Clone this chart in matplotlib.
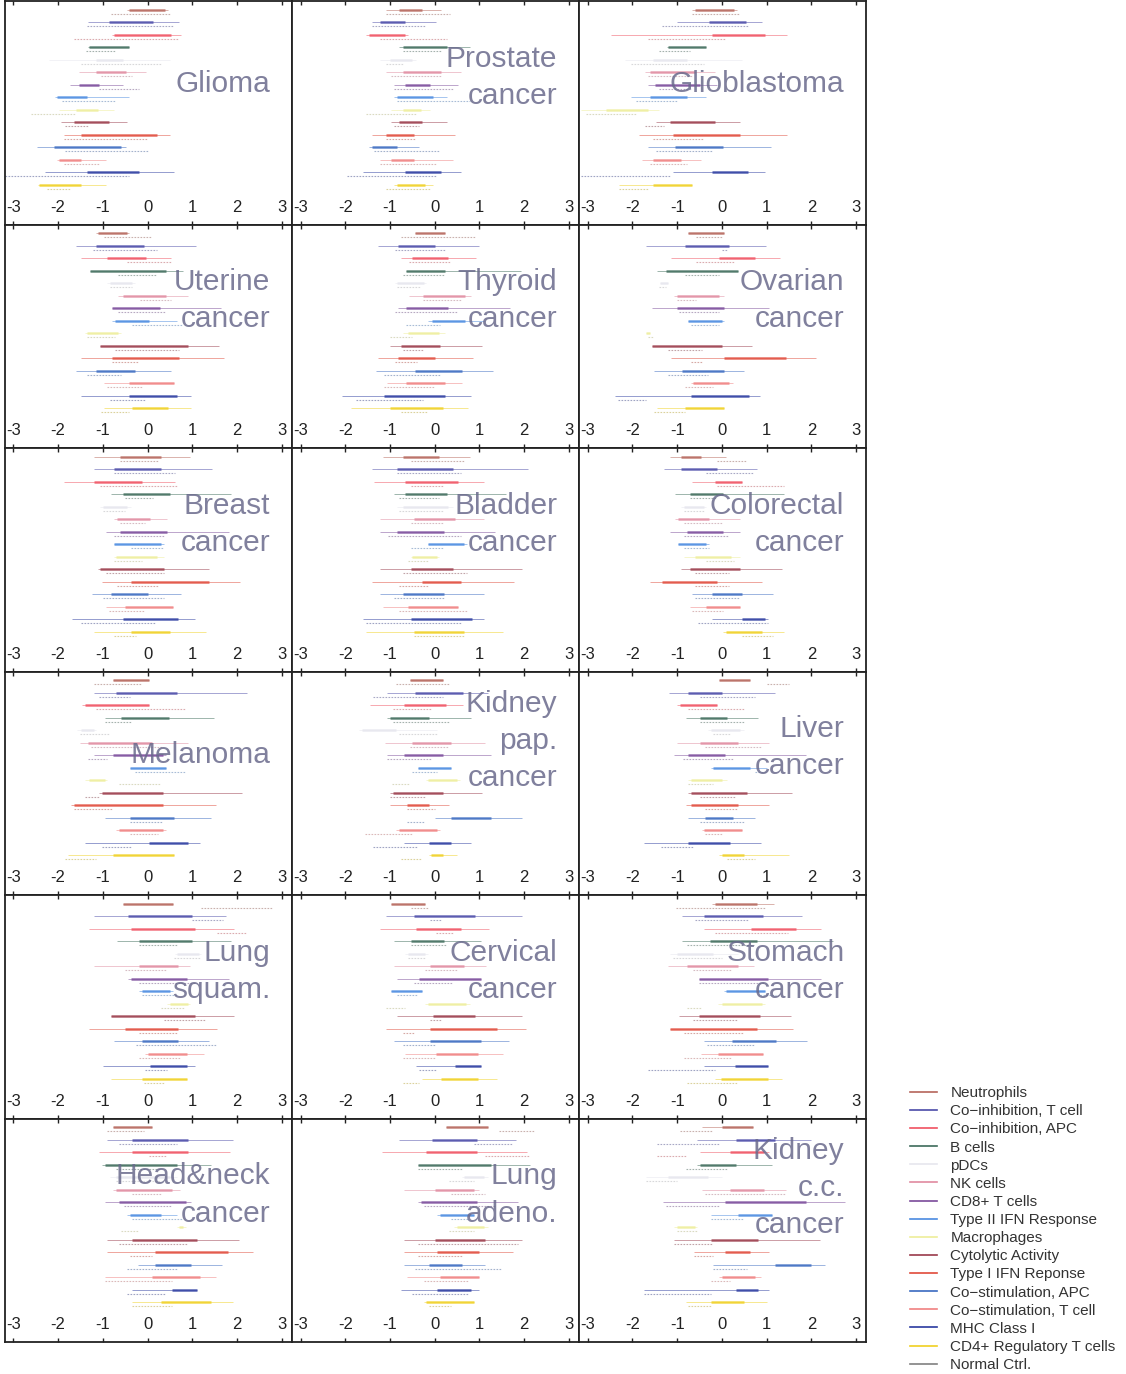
import matplotlib
matplotlib.use('Agg')
import matplotlib.pyplot as plt
from matplotlib.lines import Line2D
from matplotlib.colors import to_rgb

plt.rcParams['font.family'] = ['Liberation Sans', 'DejaVu Sans']
plt.rcParams['axes.unicode_minus'] = False

signatures = ['Neutrophils', 'Co\u2212inhibition, T cell', 'Co\u2212inhibition, APC', 'B cells',
              'pDCs', 'NK cells', 'CD8+ T cells', 'Type II IFN Response', 'Macrophages',
              'Cytolytic Activity', 'Type I IFN Reponse', 'Co\u2212stimulation, APC',
              'Co\u2212stimulation, T cell', 'MHC Class I', 'CD4+ Regulatory T cells']
sig_colors = ['#b5655a', '#4a4aa8', '#f05060', '#3d6b5a', '#e6e6ee', '#e08aa0', '#7a4a9a',
              '#4a8ae0', '#eeee9a', '#9a3a4a', '#e04a3a', '#3a6ac0', '#f08080', '#2a3aa0',
              '#f0d020']
ctrl_label = 'Normal Ctrl.'
ctrl_color = '#808080'

# each row: tumour (min, q1, q3, max), normal ctrl (min, max)
glioma = [
    (-0.45, -0.41, 0.39, 0.45, -0.82, 0.49),
    (-1.33, -0.86, 0.13, 0.71, -1.35, 0.56),
    (-0.79, -0.75, 0.52, 0.75, -1.65, 0.71),
    (-1.33, -1.30, -0.41, -0.41, -1.37, -0.71),
    (-2.2, -1.16, -0.56, 0.5, -1.5, 0.3),
    (-1.54, -1.16, -0.49, -0.04, -1.05, -0.34),
    (-1.74, -1.54, -1.09, -0.56, -1.09, -0.19),
    (-2.06, -2.03, -1.35, -0.41, -1.91, -0.71),
    (-1.99, -1.6, -1.1, -0.75, -2.6, -1.61),
    (-1.93, -1.65, -0.86, -0.45, -1.84, -1.31),
    (-1.88, -1.5, 0.2, 0.5, -1.88, 0.0),
    (-2.47, -2.1, -0.6, -0.49, -1.84, 0.0),
    (-2.03, -1.99, -1.5, -0.94, -1.88, -1.09),
    (-2.29, -1.35, -0.19, 0.6, -3.26, -0.41),
    (-2.45, -2.43, -1.5, -0.94, -2.25, -1.72),
]
prostate = [
    (-1.1, -0.79, -0.29, 0.15, -1.1, 0.34),
    (-1.41, -1.22, -0.66, 0.03, -1.41, -0.22),
    (-1.54, -1.47, -0.66, -0.6, -1.22, 0.28),
    (-0.79, -0.72, 0.28, 0.78, -0.72, 0.15),
    (-1.22, -1.0, -0.5, -0.41, -1.1, -0.72),
    (-1.1, -0.72, 0.15, 0.59, -0.97, 0.15),
    (-0.91, -0.66, -0.1, 0.53, -0.91, 0.4),
    (-0.91, -0.85, -0.04, 0.28, -0.85, 0.78),
    (-0.97, -0.7, -0.3, -0.1, -1.54, -0.41),
    (-0.97, -0.79, -0.29, 0.28, -0.91, -0.35),
    (-1.41, -1.1, -0.47, 0.46, -1.1, -0.41),
    (-1.47, -1.41, -0.85, -0.35, -1.35, 0.09),
    (-1.22, -0.97, -0.47, 0.4, -1.22, 0.03),
    (-1.6, -0.66, 0.15, 0.59, -1.97, 0.03),
    (-0.91, -0.85, -0.22, -0.04, -1.1, -0.1),
]
glioblastoma = [
    (-0.66, -0.6, 0.28, 0.34, -0.66, 0.4),
    (-1.0, -0.29, 0.53, 0.9, -1.35, 0.59),
    (-2.47, -0.22, 0.96, 1.46, -1.66, 0.09),
    (-1.22, -1.2, -0.35, -0.35, -1.41, -0.72),
    (-2.16, -1.54, -0.79, 0.46, -2.04, -0.41),
    (-1.72, -1.6, -0.6, -0.16, -1.66, -0.66),
    (-1.66, -1.5, -0.5, -0.1, -1.41, -0.66),
    (-2.04, -1.6, -0.79, -0.35, -1.91, -0.97),
    (-3.16, -2.6, -1.66, -1.41, -3.04, -1.91),
    (-1.47, -1.16, -0.16, 0.4, -1.72, -1.29),
    (-1.85, -1.1, 0.4, 1.46, -1.54, -0.41),
    (-1.66, -1.04, 0.03, 1.09, -1.47, -0.22),
    (-1.79, -1.54, -0.91, -0.47, -1.6, -0.79),
    (-1.1, -0.22, 0.59, 0.96, -3.16, -1.16),
    (-2.29, -1.54, -0.66, -0.66, -2.29, -1.66),
]
uterine = [
    (-1.16, -1.1, -0.45, -0.41, -0.97, 0.09),
    (-1.6, -1.16, -0.07, 1.09, -1.22, 0.21),
    (-1.5, -0.91, -0.04, 0.53, -0.47, 0.53),
    (-1.29, -1.29, 0.4, 0.78, -0.66, 0.21),
    (-0.91, -0.85, -0.35, -0.29, -0.85, -0.35),
    (-0.66, -0.54, 0.4, 0.9, -0.16, 0.53),
    (-0.79, -0.79, 0.28, 1.65, -0.66, 0.4),
    (-0.79, -0.72, 0.03, 0.65, -0.35, 0.78),
    (-1.41, -1.35, -0.66, -0.6, -1.35, -0.72),
    (-1.06, -1.06, 0.9, 1.59, -0.72, 0.71),
    (-1.5, -0.79, 0.71, 1.71, -0.79, -0.22),
    (-1.6, -1.16, -0.29, 0.53, -1.35, -0.6),
    (-0.97, -0.41, 0.59, 0.59, -0.91, -0.1),
    (-1.5, -0.41, 0.65, 0.96, -0.85, -0.04),
    (-0.97, -0.35, 0.46, 0.96, -1.04, -0.41),
]
thyroid = [
    (-0.45, -0.45, 0.24, 0.24, -0.76, 0.93),
    (-1.26, -0.82, 0.0, 0.99, -0.89, 0.24),
    (-0.76, -0.51, 0.3, 0.93, -0.57, 0.36),
    (-0.64, -0.64, 0.24, 1.93, -0.7, 0.24),
    (-0.89, -0.85, -0.25, -0.2, -0.85, -0.3),
    (-0.57, -0.26, 0.68, 0.8, -0.26, 0.61),
    (-0.82, -0.64, 0.3, 1.68, -0.89, 0.49),
    (-0.14, -0.07, 0.68, 1.1, -0.64, 0.11),
    (-0.7, -0.6, 0.1, 0.24, -1.01, -0.51),
    (-1.0, -0.76, 0.11, 1.05, -0.7, -0.26),
    (-1.26, -0.82, 0.0, 0.86, -0.89, -0.39),
    (-1.32, -0.45, 0.61, 1.3, -1.13, 0.11),
    (-1.07, -0.64, 0.24, 0.61, -1.13, 0.0),
    (-2.07, -1.13, 0.24, 0.8, -1.76, -0.26),
    (-1.88, -1.0, 0.18, 0.74, -0.76, -0.14),
]
ovarian = [
    (-0.76, -0.76, 0.05, 0.05, -0.57, 0.0),
    (-1.7, -0.82, 0.17, 0.99, 0.0, 0.11),
    (-1.13, -0.07, 0.74, 1.3, -0.57, 0.3),
    (-1.45, -1.26, 0.36, 0.36, -0.82, -0.07),
    (-1.38, -1.38, -1.2, -1.2, -1.4, -1.25),
    (-1.07, -1.01, -0.07, 0.05, -1.01, -0.57),
    (-1.57, -1.0, 0.05, 1.05, -0.95, -0.07),
    (-0.76, -0.76, 0.0, 0.05, -0.7, -0.07),
    (-1.7, -1.7, -1.6, -1.6, -1.65, -1.55),
    (-1.57, -1.57, 0.0, 0.68, -1.2, -0.45),
    (-1.13, 0.05, 1.43, 2.11, -0.7, -0.45),
    (-1.51, -0.89, 0.05, 0.49, -1.2, -0.32),
    (-0.7, -0.64, 0.17, 0.24, -0.82, -0.2),
    (-2.39, -0.7, 0.61, 0.86, -2.33, -1.7),
    (-1.45, -0.82, 0.05, 0.05, -1.51, -0.82),
]
breast = [
    (-1.19, -0.62, 0.31, 0.94, -0.62, 0.25),
    (-1.19, -0.75, 0.31, 1.44, -0.75, 0.62),
    (-1.87, -1.19, -0.12, 0.62, -1.06, 0.69),
    (-0.81, -0.56, 0.5, 1.87, -0.5, 0.12),
    (-1.06, -1.0, -0.45, -0.37, -1.0, -0.5),
    (-0.75, -0.69, 0.06, 0.44, -0.62, -0.06),
    (-0.94, -0.62, 0.44, 1.81, -0.75, 0.37),
    (-0.75, -0.75, 0.31, 0.37, -0.37, 0.37),
    (-0.75, -0.7, 0.2, 0.37, -0.75, -0.12),
    (-1.12, -1.06, 0.37, 1.37, -0.94, 0.37),
    (-1.02, -0.37, 1.37, 2.06, -0.69, 0.25),
    (-1.25, -0.81, 0.0, 0.75, -1.0, 0.37),
    (-0.94, -0.5, 0.56, 0.56, -0.87, -0.06),
    (-1.69, -0.56, 0.69, 1.06, -1.5, 0.19),
    (-1.19, -0.37, 0.5, 1.31, -0.75, -0.25),
]
bladder = [
    (-1.16, -0.72, 0.09, 0.78, -0.54, 0.65),
    (-1.41, -0.85, 0.4, 2.09, -0.85, 0.59),
    (-1.35, -0.66, 0.53, 1.09, -0.54, 0.21),
    (-0.91, -0.66, 0.28, 1.59, -0.79, 0.09),
    (-0.85, -0.7, 0.3, 0.4, -0.79, 0.21),
    (-1.22, -0.47, 0.46, 1.09, -0.54, 0.21),
    (-1.22, -0.85, 0.21, 1.34, -1.04, 0.59),
    (-0.16, -0.16, 0.65, 0.71, -0.54, 0.21),
    (-0.54, -0.5, 0.05, 0.09, -0.6, -0.16),
    (-1.22, -0.54, 0.4, 1.96, -0.72, 0.71),
    (-1.41, -0.29, 0.59, 1.78, -0.79, -0.16),
    (-1.22, -0.72, 0.21, 1.09, -0.91, 0.21),
    (-1.16, -0.6, 0.53, 0.53, -0.79, 0.71),
    (-1.6, -0.54, 0.84, 1.09, -1.54, 0.59),
    (-1.54, -0.47, 0.65, 1.53, -0.47, 0.65),
]
colorectal = [
    (-1.16, -0.91, -0.47, 0.09, -0.1, 0.53),
    (-1.29, -0.91, -0.1, 0.78, -0.35, 0.71),
    (-0.66, -0.16, 0.46, 0.46, -0.1, 1.4),
    (-1.04, -0.72, 0.03, 1.4, -0.72, -0.1),
    (-0.91, -0.85, -0.4, -0.35, -0.85, -0.4),
    (-1.04, -0.97, -0.29, 0.4, -0.85, 0.03),
    (-1.16, -0.79, 0.03, 0.4, -0.85, 0.15),
    (-0.97, -0.97, -0.35, -0.29, -0.85, -0.29),
    (-0.85, -0.6, 0.2, 0.4, -0.35, 0.28),
    (-0.91, -0.72, 0.4, 1.34, -0.6, 0.15),
    (-1.6, -1.35, -0.1, 0.9, -0.6, 0.15),
    (-0.66, -0.22, 0.46, 1.15, -0.6, 0.4),
    (-0.72, -0.35, 0.4, 0.4, -0.66, 0.03),
    (-0.22, 0.46, 0.96, 1.03, -0.54, 1.03),
    (0.03, 0.09, 0.9, 1.4, 0.46, 1.15),
]
melanoma = [
    (-0.78, -0.78, 0.04, 0.04, -1.21, -0.15),
    (-1.21, -0.71, 0.66, 2.23, -1.09, -0.4),
    (-1.46, -1.4, 0.04, 0.04, -1.15, 0.85),
    (-0.96, -0.59, 0.48, 1.48, -0.96, -0.34),
    (-1.59, -1.5, -1.2, -1.15, -1.52, -0.84),
    (-1.52, -1.34, 0.1, 0.91, -1.27, 0.35),
    (-1.21, -0.78, 0.35, 0.41, -1.34, -0.9),
    (-0.4, -0.4, 0.41, 0.41, -0.28, 0.85),
    (-1.4, -1.3, -0.95, -0.9, -0.65, 0.3),
    (-1.09, -1.02, 0.35, 2.1, -1.4, -1.09),
    (-1.71, -1.65, 0.35, 1.54, -1.65, -0.78),
    (-0.96, -0.4, 0.6, 1.41, -0.4, 0.35),
    (-0.71, -0.65, 0.35, 0.41, -0.4, 0.23),
    (-1.4, 0.04, 0.91, 1.16, -1.02, -0.34),
    (-1.77, -0.78, 0.6, 0.6, -1.84, -1.15),
]
kidney_pap = [
    (-0.56, -0.56, 0.19, 0.19, -0.87, 0.31),
    (-1.06, -0.44, 0.63, 1.19, -1.37, 0.19),
    (-1.44, -0.69, 0.25, 0.63, -0.94, -0.06),
    (-1.06, -1.0, -0.12, 0.81, -0.94, 0.31),
    (-1.69, -1.62, -0.87, 0.06, -0.81, 0.06),
    (-1.12, -0.5, 0.37, 1.12, -0.56, 0.31),
    (-1.06, -0.69, 0.19, 1.25, -1.06, -0.06),
    (-0.37, -0.37, 0.37, 0.37, -0.5, 0.06),
    (-0.19, -0.15, 0.5, 0.56, -0.96, -0.56),
    (-1.0, -0.94, 0.19, 1.06, -1.0, -0.19),
    (-1.0, -0.62, -0.12, 0.31, -0.62, 0.0),
    (0.0, 0.37, 1.25, 1.94, -0.62, -0.25),
    (-0.87, -0.81, 0.06, 0.12, -1.56, -0.5),
    (-0.69, -0.12, 0.37, 0.81, -1.37, -0.37),
    (-0.12, -0.09, 0.19, 0.5, -0.75, -0.31),
]
liver = [
    (-0.06, -0.06, 0.62, 0.62, 1.0, 1.5),
    (-1.19, -0.75, 0.0, 1.19, -0.5, 0.75),
    (-1.0, -0.94, -0.12, -0.12, -0.75, 0.5),
    (-0.81, -0.5, 0.12, 0.81, -0.5, 0.5),
    (-0.31, -0.25, 0.4, 0.5, -0.19, 0.19),
    (-1.0, -0.5, 0.37, 1.06, -0.37, 0.87),
    (-1.06, -0.75, 0.06, 1.87, -0.87, 0.25),
    (-0.25, -0.19, 0.62, 1.0, 0.75, 1.0),
    (-0.75, -0.7, 0.0, 0.12, -0.75, -0.19),
    (-0.75, -0.69, 0.56, 1.56, -0.5, 0.31),
    (-0.81, -0.69, 0.37, 1.06, -0.37, 0.37),
    (-0.75, -0.37, 0.25, 0.75, -0.5, 0.5),
    (-0.44, -0.4, 0.44, 0.44, -0.37, 0.0),
    (-1.75, -0.75, 0.19, 0.87, -1.37, -0.62),
    (-0.06, 0.0, 0.5, 1.5, 0.12, 0.75),
]
lung_squam = [
    (-0.56, -0.56, 0.56, 0.56, 1.19, 2.81),
    (-1.19, -0.44, 1.0, 1.75, 1.0, 1.69),
    (-1.31, -0.37, 1.06, 1.94, 1.56, 2.19),
    (-0.69, -0.19, 1.0, 1.87, -0.19, 0.69),
    (0.62, 0.65, 1.15, 1.19, 0.6, 1.2),
    (-1.19, -0.19, 0.69, 0.94, -0.5, 0.44),
    (-0.44, -0.37, 0.87, 1.81, -0.19, 1.06),
    (-0.19, -0.12, 0.5, 0.56, -0.12, 0.69),
    (0.44, 0.5, 0.9, 0.94, 0.31, 0.81),
    (-0.81, -0.81, 1.06, 1.94, 0.37, 1.31),
    (-1.31, -0.5, 0.69, 1.56, -0.19, 0.69),
    (-0.75, -0.12, 0.69, 1.37, -0.25, 1.56),
    (-0.06, 0.0, 0.87, 1.25, -0.19, 0.75),
    (-1.0, 0.06, 0.87, 1.06, -0.06, 0.44),
    (-0.81, -0.12, 0.87, 0.87, -0.09, 0.37),
]
cervical = [
    (-0.97, -0.97, -0.22, -0.22, -0.54, -0.16),
    (-1.1, -0.47, 0.9, 1.96, -0.1, 0.15),
    (-1.22, -0.41, 0.59, 1.21, 0.03, 0.4),
    (-0.91, -0.54, 0.21, 1.03, -0.54, 0.28),
    (-0.66, -0.6, -0.22, -0.16, -0.6, -0.22),
    (-0.91, -0.1, 0.65, 1.15, -0.22, 0.53),
    (-0.85, -0.35, 1.03, 1.03, -0.47, 0.4),
    (-0.97, -0.97, -0.29, -0.29, -0.85, -0.4),
    (-0.22, -0.15, 0.7, 0.78, -1.1, -0.66),
    (-0.85, -0.04, 0.9, 1.96, -0.1, 0.15),
    (-1.1, -0.1, 1.4, 2.03, -0.72, -0.47),
    (-0.91, -0.1, 1.03, 1.65, -0.72, 0.03),
    (-0.66, 0.03, 0.96, 1.53, -0.72, 0.03),
    (-0.41, 0.46, 1.03, 1.03, -0.35, 0.03),
    (-0.29, 0.15, 0.96, 1.4, -0.72, -0.35),
]
stomach = [
    (-0.21, -0.15, 0.79, 1.16, -1.02, 0.97),
    (-0.9, -0.4, 0.91, 1.79, -0.59, 0.6),
    (-0.4, 0.66, 1.66, 2.22, -0.15, 1.47),
    (-0.9, -0.27, 0.79, 2.48, -0.77, 0.72),
    (-1.15, -1.0, -0.2, 0.35, -1.1, 0.0),
    (-1.21, -0.77, 0.35, 0.72, -0.65, 0.22),
    (-0.52, -0.52, 1.04, 2.22, -0.52, 0.97),
    (0.04, 0.1, 0.97, 0.97, 0.85, 1.22),
    (-0.09, 0.0, 0.9, 0.97, -0.77, -0.46),
    (-0.96, -0.52, 0.85, 1.54, -0.65, 0.35),
    (-1.15, -1.15, 0.79, 1.6, -0.84, 0.47),
    (-0.4, 0.22, 1.22, 1.91, -0.34, 0.72),
    (-0.46, -0.09, 0.91, 0.91, -0.84, 0.22),
    (-0.4, 0.29, 1.04, 1.04, -1.65, -0.15),
    (-0.15, -0.02, 1.04, 1.35, -0.77, 0.35),
]
head_neck = [
    (-0.77, -0.77, 0.1, 0.1, -0.9, -0.09),
    (-0.9, -0.34, 0.91, 1.91, -0.65, 0.66),
    (-1.09, -0.34, 0.91, 1.85, 0.04, 0.41),
    (-1.02, -0.96, 0.66, 1.41, -0.71, 0.29),
    (-0.84, -0.7, 0.5, 0.66, -0.7, 0.3),
    (-0.77, -0.71, 0.54, 0.72, -0.34, 0.29),
    (-0.96, -0.65, 0.85, 0.97, -0.52, 0.54),
    (-0.46, -0.4, 0.29, 0.66, -0.34, 0.79),
    (0.66, 0.7, 0.8, 0.85, -0.59, -0.21),
    (-0.9, -0.34, 1.1, 2.04, -0.65, 0.91),
    (-0.9, 0.16, 1.79, 2.35, -0.4, 0.1),
    (-0.21, 0.16, 0.97, 1.66, -0.46, 0.66),
    (-0.96, 0.1, 1.16, 1.54, -0.96, 0.54),
    (-0.34, 0.54, 1.1, 1.1, -0.46, 0.41),
    (-0.34, 0.29, 1.41, 1.91, -0.34, 0.54),
]
lung_adeno = [
    (0.25, 0.25, 1.19, 1.19, 1.44, 2.25),
    (-0.81, -0.06, 0.94, 1.81, 0.87, 1.75),
    (-1.19, -0.19, 0.94, 2.06, 1.12, 2.12),
    (-0.37, -0.37, 1.25, 2.12, -0.37, 0.62),
    (0.62, 0.65, 1.1, 1.19, 0.31, 0.87),
    (-0.69, 0.0, 0.87, 1.0, 0.37, 1.12),
    (-0.37, -0.31, 0.94, 1.87, -0.25, 1.37),
    (0.06, 0.12, 0.87, 0.87, 0.37, 0.75),
    (0.44, 0.5, 1.1, 1.19, 0.31, 0.87),
    (-0.69, 0.0, 1.12, 1.94, -0.37, 1.87),
    (-0.69, 0.06, 1.0, 1.75, -0.37, 0.62),
    (-0.69, -0.12, 0.62, 1.12, -0.44, 1.5),
    (-0.62, 0.12, 1.0, 1.0, -0.25, 0.75),
    (-0.75, 0.06, 0.81, 1.0, -0.5, 0.75),
    (-0.25, -0.19, 0.87, 0.87, -0.12, 0.37),
]
kidney_cc = [
    (-0.44, 0.0, 0.69, 0.69, -0.94, -0.19),
    (-0.56, 0.31, 1.19, 2.0, -1.44, -0.06),
    (-0.5, 0.19, 0.94, 1.06, -1.44, -0.81),
    (-0.56, -0.5, 0.31, 1.12, -0.81, 0.12),
    (-1.69, -1.2, -0.3, 0.0, -1.69, -1.0),
    (-0.44, 0.19, 0.94, 1.44, -0.37, 1.44),
    (-1.31, 0.06, 1.87, 2.75, -1.25, -0.06),
    (-0.25, 0.37, 1.12, 1.12, -0.25, 0.5),
    (-1.06, -1.0, -0.6, -0.56, -1.0, -0.56),
    (-1.06, -0.25, 0.81, 2.19, -1.06, -0.19),
    (-0.62, 0.06, 0.62, 1.06, -0.62, -0.19),
    (-0.19, 1.19, 2.0, 2.31, -0.19, 0.56),
    (-0.06, 0.0, 0.75, 0.87, -0.25, 0.19),
    (-1.75, 0.31, 0.81, 1.06, -1.75, -0.25),
    (-0.81, -0.25, 0.5, 1.0, -0.75, -0.25),
]

panels = [
    ('Glioma', glioma), ('Prostate\ncancer', prostate), ('Glioblastoma', glioblastoma),
    ('Uterine\ncancer', uterine), ('Thyroid\ncancer', thyroid), ('Ovarian\ncancer', ovarian),
    ('Breast\ncancer', breast), ('Bladder\ncancer', bladder), ('Colorectal\ncancer', colorectal),
    ('Melanoma', melanoma), ('Kidney\npap.\ncancer', kidney_pap), ('Liver\ncancer', liver),
    ('Lung\nsquam.', lung_squam), ('Cervical\ncancer', cervical), ('Stomach\ncancer', stomach),
    ('Head&neck\ncancer', head_neck), ('Lung\nadeno.', lung_adeno), ('Kidney\nc.c.\ncancer', kidney_cc),
]
ticks = [-3, -2, -1, 0, 1, 2, 3]


def dim(c, k=0.45):
    # pull a colour toward grey for the control lines
    r, g, b = to_rgb(c)
    gr = to_rgb(ctrl_color)
    return (r * (1 - k) + gr[0] * k, g * (1 - k) + gr[1] * k, b * (1 - k) + gr[2] * k)


fig = plt.figure(figsize=(11.26, 13.74), dpi=100)
gs = fig.add_gridspec(6, 3, left=0.004, right=0.769, top=0.999, bottom=0.023,
                      wspace=0, hspace=0)

n = len(signatures)
for k, (title, rows) in enumerate(panels):
    ax = fig.add_subplot(gs[k // 3, k % 3])
    for i, (lo, q1, q3, hi, nlo, nhi) in enumerate(rows):
        y = n - i
        c = sig_colors[i]
        ax.hlines(y - 0.32, nlo, nhi, color=dim(c), lw=0.8, alpha=0.55,
                  linestyles=(0, (1.5, 1.2)))
        ax.hlines(y, lo, hi, color=c, lw=0.7, alpha=0.5)
        ax.hlines(y, q1, q3, color=c, lw=1.8, alpha=0.8)
    ax.set_xlim(-3.2, 3.22)
    ax.set_ylim(-2.2, n + 0.65)
    ax.set_xticks(ticks)
    ax.set_xticklabels([str(t) for t in ticks])
    ax.set_yticks([])
    ax.tick_params(axis='x', direction='in', top=True, bottom=True, length=3, width=1,
                   pad=-18, labelsize=12, labelcolor='#222222', color='#222222')
    for s in ax.spines.values():
        s.set_linewidth(1.3)
        s.set_color('#222222')
    nl = title.count('\n')
    ax.text(0.925, 0.63 + 0.03 * nl, title, transform=ax.transAxes, ha='right', va='center',
            multialignment='right', fontsize=21.5, color='#6a6a8c', alpha=0.85,
            linespacing=1.42)

handles = [Line2D([], [], color=c, lw=1.2) for c in sig_colors]
handles.append(Line2D([], [], color=ctrl_color, lw=1.2))
fig.legend(handles, signatures + [ctrl_label], loc='upper left',
           bbox_to_anchor=(0.808, 0.2095), frameon=False, fontsize=11,
           handlelength=1.75, handletextpad=0.9, labelspacing=0.27,
           borderaxespad=0, borderpad=0, labelcolor='#333333')

fig.savefig('out.png', dpi=100)
